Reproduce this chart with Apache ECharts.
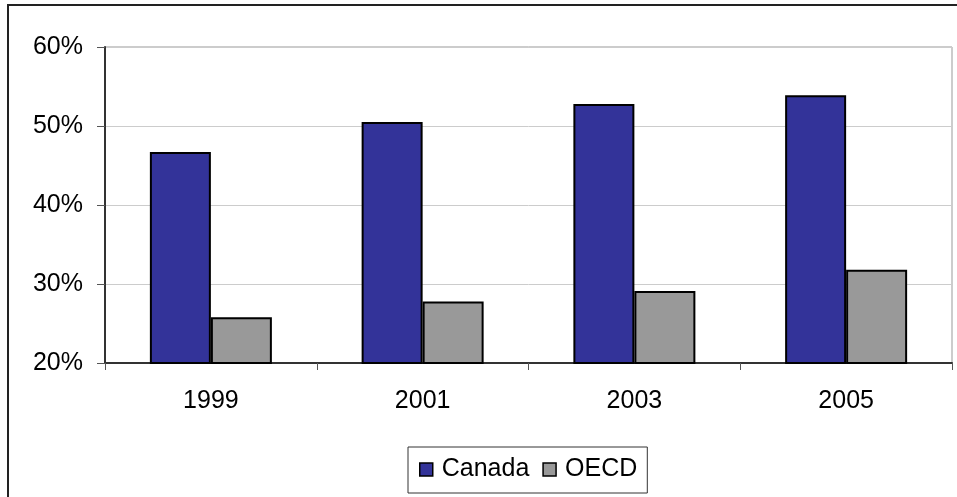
<!DOCTYPE html>
<html>
<head>
<meta charset="utf-8">
<script src="https://cdn.jsdelivr.net/npm/echarts@6/dist/echarts.min.js"></script>
<style>html,body{margin:0;padding:0;background:#fff}#c{width:957px;height:497px}</style>
</head>
<body>
<div id="c"></div>
<script>
const categories = ['1999', '2001', '2003', '2005'];
const canada = [46.7, 50.5, 52.8, 53.9];
const oecd = [25.8, 27.8, 29.1, 31.8];
const yTicks = { min: 20, max: 60, interval: 10 };

const FONT = 'Liberation Sans, Arial, sans-serif';
const chart = echarts.init(document.getElementById('c'), null, { renderer: 'canvas' });
chart.setOption({
  animation: false,
  backgroundColor: '#fff',
  graphic: [{
    type: 'rect', z: 100, silent: true,
    shape: { x: 8, y: 5, width: 1100, height: 700 },
    style: { fill: 'none', stroke: '#222', lineWidth: 2 }
  }],
  grid: { left: 105, right: 5, top: 47, bottom: 134, show: true, borderColor: '#999', borderWidth: 1, backgroundColor: '#fff' },
  legend: {
    left: 408, top: 447,
    padding: [10, 10, 11, 11],
    borderColor: '#333', borderWidth: 1,
    itemWidth: 13, itemHeight: 13, itemGap: 13,
    textStyle: { fontFamily: FONT, fontSize: 25, color: '#000', padding: [0, 0, 0, 4] },
    data: [
      { name: 'Canada', icon: 'rect', itemStyle: { color: '#333399', borderColor: '#000', borderWidth: 1.5 } },
      { name: 'OECD', icon: 'rect', itemStyle: { color: '#999999', borderColor: '#000', borderWidth: 1.5 } }
    ]
  },
  xAxis: {
    type: 'category', data: categories,
    axisLine: { lineStyle: { color: '#333', width: 2 } },
    axisTick: { show: true, length: 7, lineStyle: { color: '#555' } },
    axisLabel: { fontFamily: FONT, fontSize: 25, color: '#000', margin: 26 }
  },
  yAxis: {
    type: 'value', min: yTicks.min, max: yTicks.max, interval: yTicks.interval,
    axisLine: { show: true, lineStyle: { color: '#333', width: 2 } },
    axisTick: { show: true, length: 8, lineStyle: { color: '#555' } },
    axisLabel: { fontFamily: FONT, fontSize: 25, color: '#000', margin: 22, formatter: '{value}%' },
    splitLine: { lineStyle: { color: '#cccccc', width: 1 } }
  },
  series: [
    { name: 'Canada', type: 'bar', data: canada, barWidth: 61, barGap: '0%',
      itemStyle: { color: '#333399', borderColor: '#000', borderWidth: 2 } },
    { name: 'OECD', type: 'bar', data: oecd, barWidth: 61, barGap: '0%',
      itemStyle: { color: '#999999', borderColor: '#000', borderWidth: 2 } }
  ]
});
</script>
</body>
</html>
